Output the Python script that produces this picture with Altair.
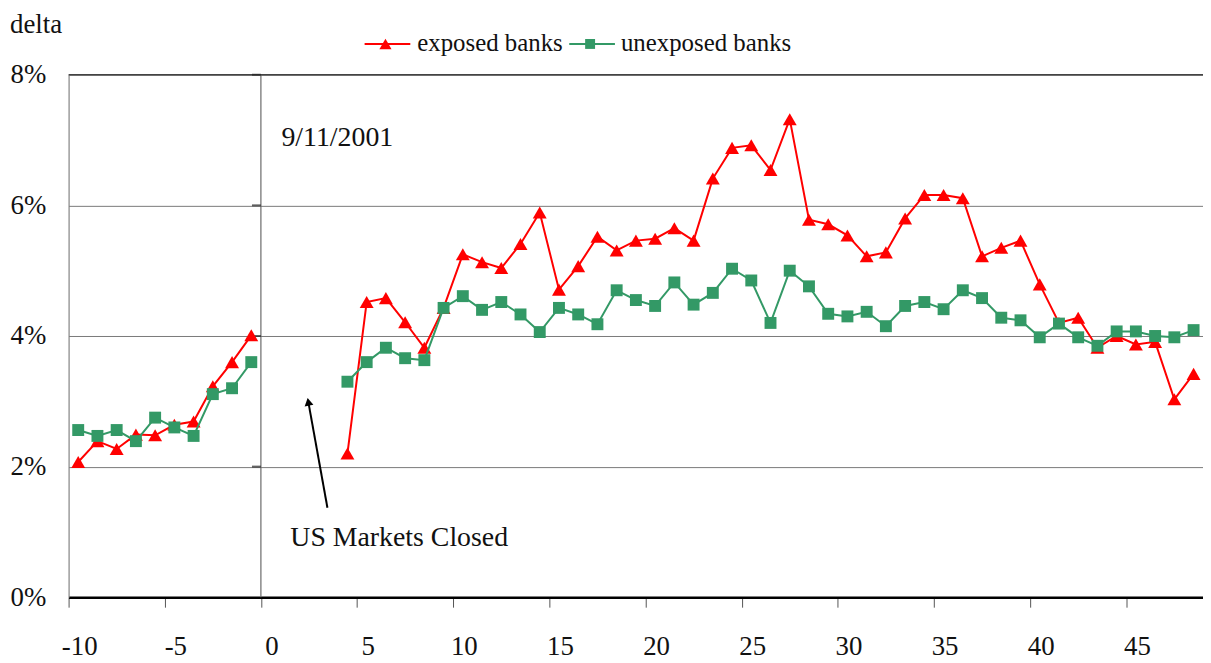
import altair as alt
import pandas as pd

# ---- data -------------------------------------------------------------
days_before = list(range(-10, 0))
days_after = list(range(4, 49))

exposed_before = [2.07, 2.39, 2.27, 2.49, 2.48, 2.64, 2.69, 3.23, 3.60, 4.01]
unexposed_before = [2.56, 2.47, 2.56, 2.39, 2.75, 2.60, 2.47, 3.11, 3.20, 3.60]

exposed_after = [2.20, 4.52, 4.58, 4.21, 3.82, 4.43, 5.25, 5.13, 5.04, 5.41,
                 5.89, 4.71, 5.07, 5.52, 5.31, 5.46, 5.49, 5.65, 5.46, 6.41,
                 6.88, 6.92, 6.54, 7.32, 5.78, 5.71, 5.54, 5.22, 5.28, 5.80,
                 6.16, 6.16, 6.11, 5.22, 5.35, 5.46, 4.79, 4.20, 4.28, 3.82,
                 4.00, 3.87, 3.91, 3.03, 3.42]
unexposed_after = [3.30, 3.60, 3.82, 3.66, 3.63, 4.43, 4.61, 4.40, 4.52, 4.33,
                   4.06, 4.43, 4.33, 4.18, 4.70, 4.55, 4.46, 4.82, 4.48, 4.66,
                   5.03, 4.85, 4.20, 5.00, 4.76, 4.34, 4.30, 4.37, 4.15, 4.46,
                   4.52, 4.41, 4.70, 4.58, 4.28, 4.24, 3.98, 4.19, 3.98, 3.85,
                   4.07, 4.07, 4.00, 3.98, 4.09]

series_names = ["exposed banks", "unexposed banks"]
series_colors = ["#FF0000", "#339966"]
series_shapes = ["triangle-up", "square"]

x_tick_labels = list(range(-10, 50, 5))
y_ticks = [0, 2, 4, 6, 8]

event_x = -0.5
event_label = "9/11/2001"
event_label_pos = (0.57, 7.03)
closed_label = "US Markets Closed"
closed_label_pos = (1.03, 0.9)
arrow_tail = (2.96, 1.37)
arrow_tip = (1.93, 3.05)

# ---- build tables -------------------------------------------------------
rows = []
for name, before, after in [
    (series_names[0], exposed_before, exposed_after),
    (series_names[1], unexposed_before, unexposed_after),
]:
    for d, v in zip(days_before, before):
        rows.append({"day": d, "value": v, "series": name, "segment": "before"})
    for d, v in zip(days_after, after):
        rows.append({"day": d, "value": v, "series": name, "segment": "after"})
df = pd.DataFrame(rows)

FONT = "'Liberation Serif', 'Times New Roman', Times, serif"
W, H = 1142, 526
PPU = W / 58.99
half = PPU / 2

xscale = alt.Scale(domain=[-10.5, 48.49], nice=False, zero=False)
yscale = alt.Scale(domain=[0, 8], nice=False, zero=False)

x_axis = alt.Axis(values=x_tick_labels, tickOffset=-half, labelOffset=half + 1,
                  labelExpr="'' + datum.value",
                  grid=False, domainColor="black", domainWidth=2.5,
                  tickColor="#555555", tickSize=10, tickWidth=1,
                  labelFontSize=27, labelPadding=27, labelColor="#111111",
                  labelFont=FONT, labelFlush=False, labelOverlap=False, title=None)
y_axis = alt.Axis(values=y_ticks, labelExpr="datum.value + '%'", grid=True,
                  gridColor="#7a7a7a", gridWidth=1, domainColor="#7a7a7a",
                  domainWidth=1, ticks=False, labelPadding=23, labelFontSize=27,
                  labelColor="#111111", labelFont=FONT, title=None)

base = alt.Chart(df)

layers = []
# event line, carrying the axes
layers.append(
    alt.Chart(pd.DataFrame({"x": [event_x], "y0": [0], "y1": [8]}))
    .mark_rule(color="#6a6a6a", strokeWidth=1.2)
    .encode(x=alt.X("x:Q", scale=xscale, axis=x_axis),
            y=alt.Y("y0:Q", scale=yscale, axis=y_axis), y2="y1:Q")
)
# top border
layers.append(
    alt.Chart(pd.DataFrame({"y": [8]}))
    .mark_rule(color="#444444", strokeWidth=1.5)
    .encode(y=alt.Y("y:Q", scale=yscale))
)
# tick marks on the event line
layers.append(
    alt.Chart(pd.DataFrame({"x": [event_x] * 4, "y": y_ticks[1:]}))
    .mark_tick(orient="horizontal", size=9, thickness=2, color="#222222", xOffset=-4.5)
    .encode(x=alt.X("x:Q", scale=xscale), y=alt.Y("y:Q", scale=yscale))
)

for name, col, shp, sz in zip(series_names, series_colors, series_shapes, [196, 144]):
    sub = base.transform_filter(alt.datum.series == name)
    layers.append(
        sub.mark_line(color=col, strokeWidth=2)
        .encode(x=alt.X("day:Q", scale=xscale), y=alt.Y("value:Q", scale=yscale),
                detail="segment:N")
    )
    layers.append(
        sub.mark_point(color=col, filled=True, opacity=1, shape=shp, size=sz)
        .encode(x=alt.X("day:Q", scale=xscale), y=alt.Y("value:Q", scale=yscale))
    )

# annotations
ann = pd.DataFrame({
    "x": [event_label_pos[0], closed_label_pos[0]],
    "y": [event_label_pos[1], closed_label_pos[1]],
    "t": [event_label, closed_label],
})
layers.append(
    alt.Chart(ann).mark_text(align="left", baseline="middle", font=FONT,
                             fontSize=28, color="#111111")
    .encode(x=alt.X("x:Q", scale=xscale), y=alt.Y("y:Q", scale=yscale), text="t:N")
)
# arrow
arrow_df = pd.DataFrame({"x": [arrow_tail[0]], "y": [arrow_tail[1]],
                         "x2": [arrow_tip[0] + 0.03 * (arrow_tail[0] - arrow_tip[0])],
                         "y2": [arrow_tip[1] + 0.03 * (arrow_tail[1] - arrow_tip[1])]})
layers.append(
    alt.Chart(arrow_df).mark_rule(color="black", strokeWidth=2)
    .encode(x=alt.X("x:Q", scale=xscale), y=alt.Y("y:Q", scale=yscale),
            x2="x2:Q", y2="y2:Q")
)
head_df = pd.DataFrame({"x": [arrow_tip[0] + 0.035 * (arrow_tail[0] - arrow_tip[0])],
                        "y": [arrow_tip[1] + 0.035 * (arrow_tail[1] - arrow_tip[1])]})
layers.append(
    alt.Chart(head_df).mark_point(shape="triangle-up", filled=True, opacity=1,
                                  color="black", size=80, angle=349.7)
    .encode(x=alt.X("x:Q", scale=xscale), y=alt.Y("y:Q", scale=yscale))
)

# y label "delta"
one = pd.DataFrame({"a": [0]})
layers.append(
    alt.Chart(one).mark_text(align="left", baseline="middle", font=FONT,
                             fontSize=27, color="#111111", text="delta")
    .encode(x=alt.value(-59), y=alt.value(-50))
)

# legend
leg_line_x = [298, 504]
leg_text_x = [351, 556]
for name, col, shp, sz, lx, tx in zip(series_names, series_colors, series_shapes,
                                      [150, 100], leg_line_x, leg_text_x):
    layers.append(
        alt.Chart(one).mark_rule(color=col, strokeWidth=2)
        .encode(x=alt.value(lx), x2=alt.value(lx + 46), y=alt.value(-31))
    )
    layers.append(
        alt.Chart(one).mark_point(color=col, filled=True, opacity=1, shape=shp, size=sz)
        .encode(x=alt.value(lx + 21), y=alt.value(-31))
    )
    layers.append(
        alt.Chart(one).mark_text(align="left", baseline="middle", font=FONT,
                                 fontSize=25, color="#111111", text=name)
        .encode(x=alt.value(tx), y=alt.value(-32))
    )

chart = (
    alt.layer(*layers)
    .properties(width=W, height=H,
                autosize=alt.AutoSizeParams(type="none"),
                padding={"left": 61, "top": 65, "right": 0, "bottom": 62})
    .configure_view(stroke=None)
    .configure(font=FONT)
)

chart.save("out.html", embed_options={"renderer": "svg", "actions": False})
